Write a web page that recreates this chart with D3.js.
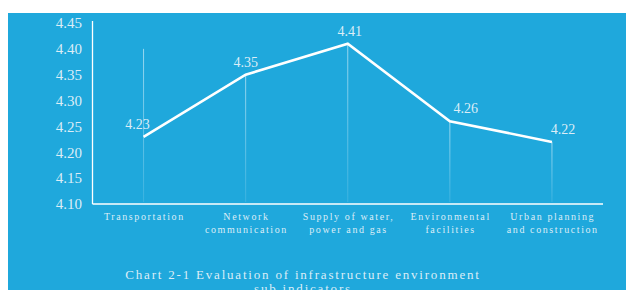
<!DOCTYPE html>
<html><head><meta charset="utf-8">
<script src="https://cdn.jsdelivr.net/npm/d3@7"></script>
<style>
html,body{margin:0;padding:0;background:#fff;}
svg{display:block;}
text{font-family:"Liberation Serif","Times New Roman",serif;}
</style></head>
<body>
<script>
const categories = [["Transportation"],["Network","communication"],["Supply of water,","power and gas"],["Environmental","facilities"],["Urban planning","and construction"]];
const values = [4.23, 4.35, 4.41, 4.26, 4.22];
const guideTop = [4.40, 4.35, 4.41, 4.26, 4.22];
const yTicks = [4.10, 4.15, 4.20, 4.25, 4.30, 4.35, 4.40, 4.45];
const titleLines = ["Chart 2-1 Evaluation of infrastructure environment", "sub indicators"];
const labelDx = [-6, 0, 2, 16, 11];

const W = 626, H = 290;
const svg = d3.select("body").append("svg").attr("width", W).attr("height", H);
const blue = "#1fa8dc", txt = "#dcedf7";
svg.append("rect").attr("x", 8).attr("y", 13).attr("width", W - 8).attr("height", H - 13).attr("fill", blue);

const x = d3.scaleBand().domain(d3.range(categories.length)).range([92.5, 603]);
const y = d3.scaleLinear().domain([4.10, 4.45]).range([204, 23]);

const defs = svg.append("defs");
const g = defs.append("linearGradient").attr("id","fade").attr("x1",0).attr("y1",0).attr("x2",0).attr("y2",1);
g.append("stop").attr("offset","0%").attr("stop-color","#fff").attr("stop-opacity",0.55);
g.append("stop").attr("offset","100%").attr("stop-color","#fff").attr("stop-opacity",0.12);

// guide lines
svg.selectAll("rect.guide").data(values).join("rect").attr("class","guide")
  .attr("x", (d,i) => x(i) + x.bandwidth()/2 - 0.5)
  .attr("y", (d,i) => y(guideTop[i]))
  .attr("width", 1)
  .attr("height", (d,i) => y(4.10) - 2 - y(guideTop[i]))
  .attr("fill", "url(#fade)");

// axes lines
svg.append("line").attr("x1", 92.5).attr("x2", 92.5).attr("y1", y(4.45) - 2).attr("y2", y(4.10))
  .attr("stroke", "#fff").attr("stroke-width", 1.3);
svg.append("line").attr("x1", 92.5).attr("x2", 603).attr("y1", y(4.10)).attr("y2", y(4.10))
  .attr("stroke", "#fff").attr("stroke-width", 1.5);

// y tick labels
const yAxis = d3.axisLeft(y).tickValues(yTicks).tickFormat(d3.format(".2f")).tickSize(0).tickPadding(10.5);
const ya = svg.append("g").attr("transform", "translate(92.5,0)").call(yAxis);
ya.select(".domain").remove();
ya.selectAll("text").attr("fill", txt).attr("font-size", 15).attr("font-family", "Liberation Serif");

// line
svg.append("path").datum(values)
  .attr("d", d3.line().x((d,i) => x(i) + x.bandwidth()/2).y(d => y(d)))
  .attr("fill", "none").attr("stroke", "#fff").attr("stroke-width", 2.6).attr("stroke-linejoin","miter");

// value labels
svg.selectAll("text.val").data(values).join("text").attr("class","val")
  .attr("x", (d,i) => x(i) + x.bandwidth()/2 + labelDx[i])
  .attr("y", d => y(d) - 8)
  .attr("text-anchor", "middle").attr("fill", txt).attr("font-size", 14)
  .text(d => d3.format(".2f")(d));

// x labels
categories.forEach((lines, i) => {
  const t = svg.append("text").attr("text-anchor","middle").attr("fill", txt)
    .attr("font-size", 10).attr("letter-spacing", "1.6px");
  lines.forEach((l, j) => {
    t.append("tspan").attr("x", x(i) + x.bandwidth()/2 + 0.8).attr("y", 219.5 + j*13).text(l);
  });
});

// title
titleLines.forEach((l, j) => {
  svg.append("text").attr("x", 303).attr("y", 278.5 + j*14).attr("text-anchor","middle")
    .attr("fill", txt).attr("font-size", 13).attr("letter-spacing", "1.8px").text(l);
});
</script>
</body></html>
